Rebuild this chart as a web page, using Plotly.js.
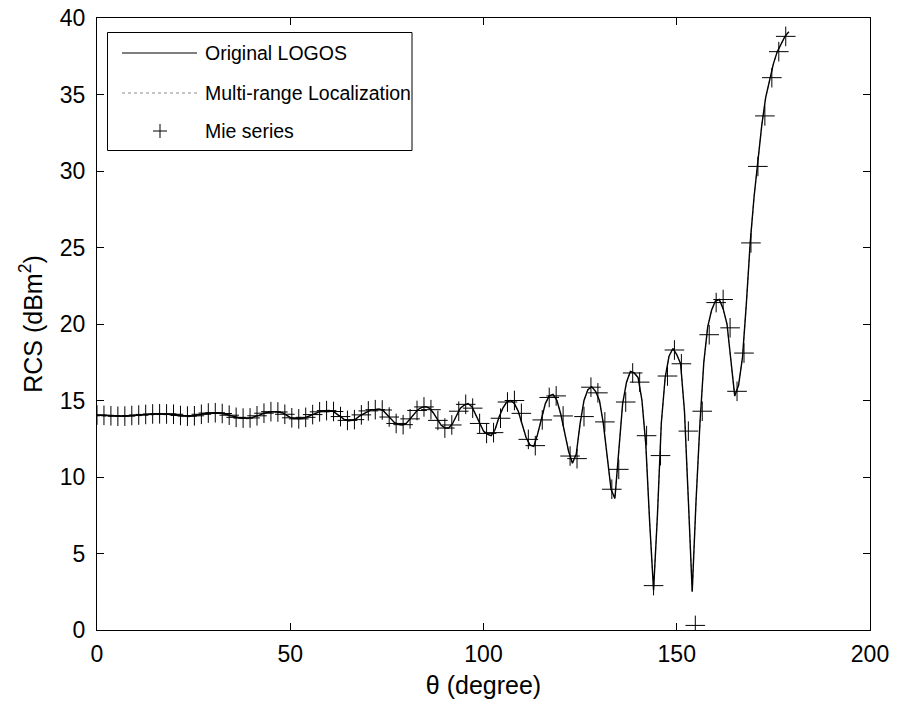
<!DOCTYPE html>
<html>
<head>
<meta charset="utf-8">
<script src="https://cdn.plot.ly/plotly-3.0.1.min.js"></script>
<style>html,body{margin:0;padding:0;background:#fff;}#chart{width:900px;height:709px;}</style>
</head>
<body>
<div id="chart"></div>
<script>
// Angles (degree) for the line series: 0..179 step 1
const thetaLine = Array.from({length: 180}, (_, i) => i);

// Original LOGOS (dBm^2)
const logosRCS = [
 14.05,14.04,14.02,14.00,13.98,13.97,13.97,13.98,14.00,14.02,
 14.04,14.06,14.08,14.10,14.12,14.13,14.13,14.12,14.12,14.11,
 14.10,14.05,14.00,13.98,13.97,14.00,14.05,14.10,14.15,14.18,
 14.20,14.20,14.18,14.12,14.05,13.97,13.90,13.86,13.85,13.83,
 13.88,13.95,14.05,14.15,14.22,14.27,14.27,14.25,14.20,14.05,
 13.90,13.82,13.80,13.82,13.90,14.00,14.10,14.20,14.30,14.33,
 14.35,14.30,14.15,13.95,13.75,13.68,13.70,13.80,14.00,14.15,
 14.30,14.40,14.42,14.45,14.35,14.10,13.80,13.55,13.45,13.40,
 13.50,13.80,14.10,14.40,14.55,14.60,14.50,14.20,13.80,13.40,
 13.20,13.20,13.50,14.00,14.50,14.70,14.80,14.60,14.10,13.50,
 13.00,12.80,12.70,13.10,13.90,14.50,14.90,15.00,14.80,14.30,
 13.50,12.60,12.10,12.00,12.80,13.80,14.80,15.30,15.40,15.00,
 14.10,12.90,11.70,10.90,11.50,13.50,15.00,15.70,15.90,15.60,
 15.00,13.50,11.20,9.20,8.60,11.80,14.80,16.20,16.90,16.80,
 16.50,15.00,12.10,7.00,2.60,7.50,13.50,16.50,17.90,18.40,
 18.00,17.40,14.30,8.50,2.50,8.50,13.50,17.50,19.80,20.90,
 21.50,21.60,21.00,20.00,17.80,15.30,16.00,17.80,21.30,25.30,
 28.30,30.80,33.00,34.80,35.90,37.00,37.80,38.30,38.80,39.10
];

// Multi-range Localization (dBm^2)
const multiRCS = [
 13.98,13.97,13.96,13.95,13.94,13.93,13.93,13.94,13.95,13.97,
 13.99,14.01,14.03,14.05,14.07,14.08,14.08,14.08,14.07,14.06,
 14.04,14.00,13.95,13.93,13.93,13.96,14.01,14.06,14.11,14.14,
 14.16,14.16,14.14,14.08,14.00,13.92,13.86,13.82,13.81,13.80,
 13.85,13.92,14.02,14.12,14.19,14.24,14.24,14.22,14.16,14.01,
 13.86,13.78,13.76,13.78,13.87,13.97,14.07,14.17,14.27,14.30,
 14.32,14.27,14.12,13.92,13.72,13.65,13.67,13.78,13.98,14.13,
 14.28,14.38,14.40,14.43,14.33,14.08,13.78,13.53,13.43,13.38,
 13.48,13.78,14.08,14.38,14.53,14.58,14.48,14.18,13.78,13.38,
 13.18,13.18,13.48,13.98,14.48,14.68,14.78,14.58,14.08,13.48,
 12.98,12.78,12.68,13.08,13.88,14.48,14.88,14.98,14.78,14.28,
 13.48,12.58,12.08,11.98,12.78,13.78,14.78,15.28,15.38,14.98,
 14.08,12.88,11.68,10.88,11.48,13.48,14.98,15.68,15.88,15.58,
 14.98,13.48,11.18,9.18,8.58,11.78,14.78,16.18,16.88,16.78,
 16.48,14.98,12.08,6.98,2.58,7.48,13.48,16.48,17.88,18.38,
 17.98,17.38,14.28,8.48,2.48,8.48,13.48,17.48,19.78,20.88,
 21.48,21.58,20.98,19.98,17.78,15.28,15.98,17.78,21.28,25.28,
 28.28,30.78,32.98,34.78,35.88,36.98,37.78,38.28,38.78,39.08
];

// Mie series samples (dBm^2), one every 1.8 degree from 0
const mieRCS = [
 14.05,14.03,14.00,13.97,13.98,14.02,14.05,14.09,14.12,14.13,
 14.12,14.10,14.02,13.98,14.00,14.10,14.18,14.20,14.15,14.04,
 13.90,13.85,13.86,14.00,14.17,14.27,14.25,14.10,13.87,13.80,
 13.90,14.08,14.26,14.34,14.28,13.95,13.70,13.75,14.06,14.32,
 14.40,14.38,13.92,13.50,13.42,13.80,14.35,14.58,14.40,13.70,
 13.20,13.40,14.30,14.75,14.50,13.50,12.85,12.90,13.84,14.90,
 15.00,14.16,12.46,12.05,13.73,15.20,15.30,13.99,11.37,11.20,
 13.95,15.87,15.50,13.60,9.20,10.50,14.90,16.80,16.20,12.70,
 2.90,11.40,16.60,18.30,17.40,13.00,0.30,14.30,19.30,21.40,
 21.60,19.75,15.60,18.10,25.30,30.30,33.60,36.10,37.80,38.80
];
const mieStep = 1.8;
const thetaMie = mieRCS.map((_, i) => +(i * mieStep).toFixed(1));

const xTicks = [0, 50, 100, 150, 200];
const yTicks = [0, 5, 10, 15, 20, 25, 30, 35, 40];
const legendLabels = ["Original LOGOS", "Multi-range Localization", "Mie series"];

const FONT = "Liberation Sans, Arial, sans-serif";
const TICK_FS = 23, TITLE_FS = 25, LEG_FS = 19.5;

const traces = [
  {x: thetaLine, y: multiRCS, type: "scatter", mode: "lines",
   line: {color: "#8c8c8c", width: 1, dash: "dot"}, name: legendLabels[1], showlegend: false},
  {x: thetaLine, y: logosRCS, type: "scatter", mode: "lines",
   line: {color: "#000", width: 1.4}, name: legendLabels[0], showlegend: false},
  {x: thetaMie, y: mieRCS, type: "scatter", mode: "markers",
   marker: {symbol: "cross-thin-open", size: 14, color: "#000", line: {color: "#000", width: 1}},
   name: legendLabels[2], showlegend: false}
];

// Plot area geometry (px) used for a MATLAB-style legend box
const L = 97, R = 870, T = 18, B = 630;
const px = v => (v - L) / (R - L);
const py = v => (B - v) / (B - T);

const rows = [53, 93, 131];
const shapes = [
  {type: "rect", xref: "paper", yref: "paper", x0: px(107.5), x1: px(412), y0: py(150.5), y1: py(32.5),
   line: {color: "#000", width: 1}, fillcolor: "#fff", layer: "above"},
  {type: "line", xref: "paper", yref: "paper", x0: px(122), x1: px(197), y0: py(rows[0]), y1: py(rows[0]),
   line: {color: "#000", width: 1.2}, layer: "above"},
  {type: "line", xref: "paper", yref: "paper", x0: px(122), x1: px(197), y0: py(rows[1]), y1: py(rows[1]),
   line: {color: "#8c8c8c", width: 1, dash: "dot"}, layer: "above"},
  {type: "line", xref: "paper", yref: "paper", x0: px(153), x1: px(167), y0: py(rows[2]), y1: py(rows[2]),
   line: {color: "#000", width: 1}, layer: "above"},
  {type: "line", xref: "paper", yref: "paper", x0: px(160), x1: px(160), y0: py(rows[2] - 7), y1: py(rows[2] + 7),
   line: {color: "#000", width: 1}, layer: "above"}
];
const annotations = legendLabels.map((t, i) => ({
  text: t, xref: "paper", yref: "paper", x: px(203), y: py(rows[i]),
  xanchor: "left", yanchor: "middle", showarrow: false,
  font: {family: FONT, size: LEG_FS, color: "#000"}
}));

const axisCommon = {
  showgrid: false, zeroline: false, showline: true, linecolor: "#000", linewidth: 1,
  mirror: "ticks", ticks: "inside", ticklen: 7, tickcolor: "#000", tickwidth: 1,
  tickfont: {family: FONT, size: TICK_FS, color: "#000"}, automargin: false
};

const layout = {
  width: 900, height: 709,
  margin: {l: 97, r: 30, t: 18, b: 79},
  paper_bgcolor: "#fff", plot_bgcolor: "#fff",
  showlegend: false,
  xaxis: Object.assign({}, axisCommon, {
    range: [0, 200], tickmode: "array", tickvals: xTicks, ticktext: xTicks.map(String),
    ticklabelstandoff: 3,
    title: {text: "θ (degree)", font: {family: FONT, size: TITLE_FS, color: "#000"}, standoff: 10}
  }),
  yaxis: Object.assign({}, axisCommon, {
    range: [0, 40], tickmode: "array", tickvals: yTicks, ticktext: yTicks.map(String),
    ticklabelstandoff: 6,
    title: {text: "RCS (dBm<sup>2</sup>)", font: {family: FONT, size: TITLE_FS, color: "#000"}, standoff: 10}
  }),
  shapes: shapes,
  annotations: annotations
};

Plotly.newPlot("chart", traces, layout, {displayModeBar: false, staticPlot: true});
</script>
</body>
</html>
